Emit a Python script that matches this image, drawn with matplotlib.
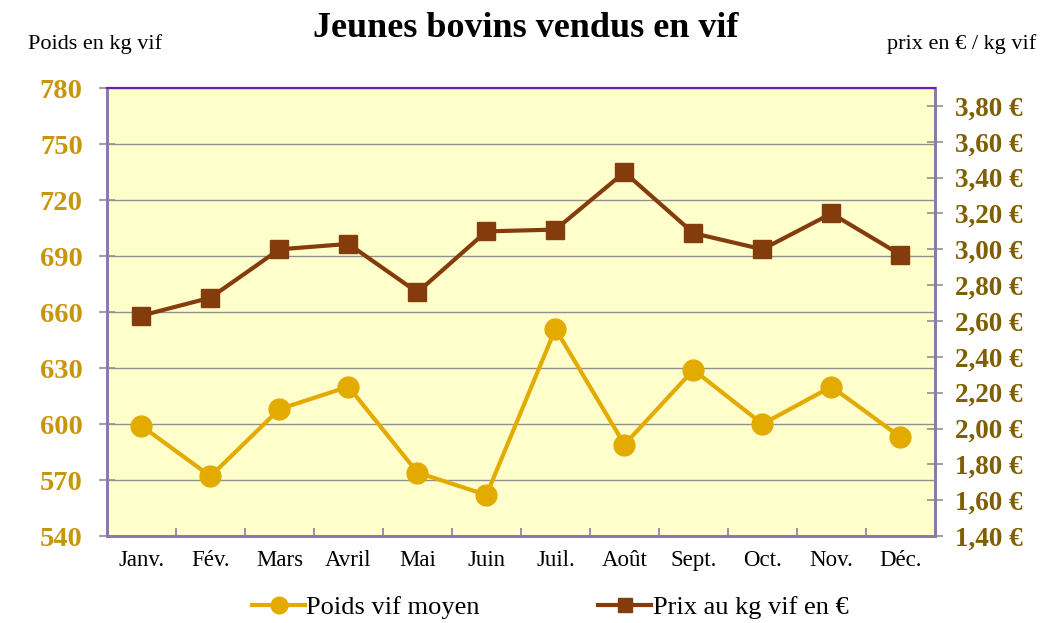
import matplotlib.pyplot as plt
from matplotlib.ticker import FuncFormatter, MultipleLocator

plt.rcParams['font.family'] = ['Liberation Serif', 'DejaVu Serif']

mois = ['Janv.', 'Fév.', 'Mars', 'Avril', 'Mai', 'Juin', 'Juil.', 'Août',
        'Sept.', 'Oct.', 'Nov.', 'Déc.']
poids = [599, 572, 608, 620, 574, 562, 651, 589, 629, 600, 620, 593]
prix = [2.63, 2.73, 3.00, 3.03, 2.76, 3.10, 3.11, 3.43, 3.09, 3.00, 3.20, 2.97]

c_poids = '#e3aa00'
c_prix = '#843c0c'
c_axe = '#8a7aa8'

fig = plt.figure(figsize=(10.58, 6.23), dpi=100)
ax = fig.add_axes([0.1011, 0.1396, 0.7826, 0.7191])
ax2 = ax.twinx()

ax.set_facecolor('#ffffcc')
x = range(len(mois))

l1, = ax.plot(x, poids, color=c_poids, lw=3, marker='o', ms=15,
              label='Poids vif moyen', zorder=3)
l2, = ax2.plot(x, prix, color=c_prix, lw=3, marker='s', ms=13,
               label='Prix au kg vif en €', zorder=3)

ax.set_xlim(-0.5, 11.5)
ax.set_ylim(540, 780)
ax.yaxis.set_major_locator(MultipleLocator(30))
ax.grid(axis='y', color='#909090', lw=1)
ax.set_axisbelow(True)

ax2.set_ylim(1.40, 3.90)
ax2.set_yticks([1.40 + 0.2 * i for i in range(13)])
ax2.yaxis.set_major_formatter(FuncFormatter(lambda v, p: ('%.2f €' % v).replace('.', ',')))

ax.set_xticks(list(x))
ax.set_xticklabels(mois, fontsize=16.5)
ax.set_xticks([i + 0.5 for i in range(-1, 12)], minor=True)
ax.tick_params(axis='x', which='major', length=0, pad=10)
ax.tick_params(axis='x', which='minor', direction='in', length=6, color=c_axe, width=1.2)

ax.tick_params(axis='y', direction='inout', length=11, color='#909090', width=1.2,
               labelsize=20.5, labelcolor='#c8960a', pad=12)
for t in ax.get_yticklabels():
    t.set_fontweight('bold')
ax2.tick_params(axis='y', direction='inout', length=11, color='#909090', width=1.2,
                labelsize=19.5, labelcolor='#7f5f00', pad=9)
for t in ax2.get_yticklabels():
    t.set_fontweight('bold')

for a in (ax, ax2):
    for s in ('left', 'right', 'bottom'):
        a.spines[s].set_color(c_axe)
        a.spines[s].set_linewidth(2)
    a.spines['top'].set_color('#6a20b0')
    a.spines['top'].set_linewidth(1.5)

fig.text(0.497, 0.955, 'Jeunes bovins vendus en vif', ha='center', va='center',
         fontsize=26, fontweight='bold')
fig.text(0.026, 0.93, 'Poids en kg vif', ha='left', va='center', fontsize=16)
fig.text(0.979, 0.93, 'prix en € / kg vif', ha='right', va='center', fontsize=16)

fig.legend(handles=[l1, l2], loc='center', bbox_to_anchor=(0.52, 0.025),
           ncol=2, frameon=False, fontsize=19, columnspacing=4.5,
           handlelength=2.0, handletextpad=0.05, markerscale=0.8)

fig.savefig('out.png', dpi=100)
